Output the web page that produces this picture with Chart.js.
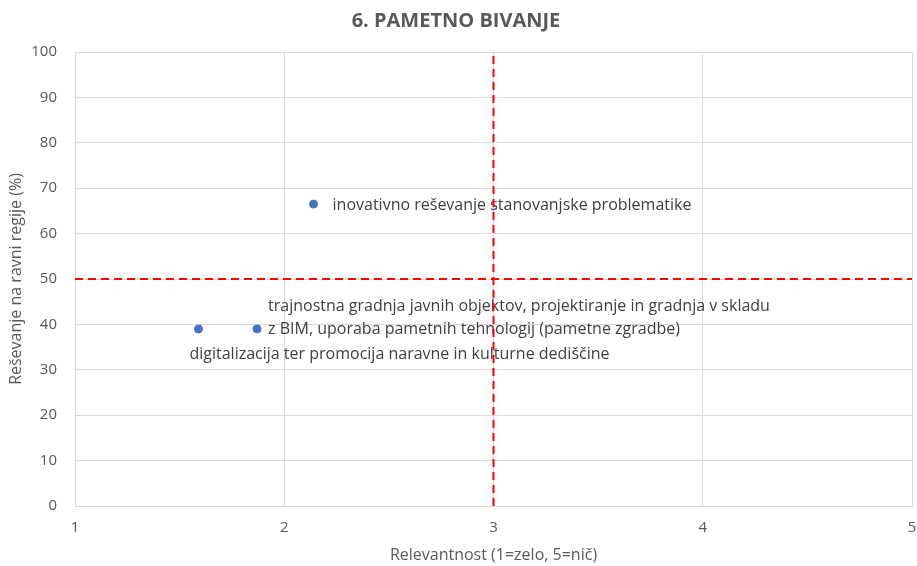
<!DOCTYPE html>
<html>
<head>
<meta charset="utf-8">
<script src="https://cdn.jsdelivr.net/npm/chart.js@4.4.1/dist/chart.umd.min.js"></script>
<style>
    html, body { margin: 0; padding: 0; background: #fff; }
    #wrap { width: 917px; height: 566px; }
</style>
</head>
<body>
<div id="wrap"><canvas id="bivanjeChart"></canvas></div>
<script>
// DATA
const itemLabels = [
    ['inovativno reševanje stanovanjske problematike'],
    ['digitalizacija ter promocija naravne in kulturne dediščine'],
    ['trajnostna gradnja javnih objektov, projektiranje in gradnja v skladu', 'z BIM, uporaba pametnih tehnologij (pametne zgradbe)']
];
const relevance = [2.14, 1.59, 1.87];     // x: 1=zelo, 5=nič
const regionalShare = [66.5, 39, 39];     // y: %
const thresholdX = 3;
const thresholdY = 50;
const xRange = [1, 5];
const yRange = [0, 100];

const FONT = "'Open Sans', 'Noto Sans', sans-serif";

// where each data label sits relative to its point (px)
const labelPlacement = [
    { dx: 19, dy: 1 },
    { dx: -9, dy: 25 },
    { dx: 11, dy: -23 }
];

// Data labels drawn under the dashed lines, like the original
const pointLabels = {
    id: 'pointLabels',
    beforeDatasetsDraw(chart) {
        const meta = chart.getDatasetMeta(0);
        const ctx = chart.ctx;
        ctx.save();
        ctx.font = '16px ' + FONT;
        ctx.fillStyle = '#404040';
        ctx.textAlign = 'left';
        ctx.textBaseline = 'middle';
        meta.data.forEach((pt, i) => {
            const p = labelPlacement[i];
            itemLabels[i].forEach((line, j) => {
                ctx.fillText(line, pt.x + p.dx, pt.y + p.dy + j * 23);
            });
        });
        ctx.restore();
    }
};

const ctx = document.getElementById('bivanjeChart').getContext('2d');
new Chart(ctx, {
    type: 'scatter',
    data: {
        datasets: [
            {
                data: relevance.map((x, i) => ({ x, y: regionalShare[i] })),
                backgroundColor: '#4472C4',
                borderColor: '#4472C4',
                pointRadius: 4,
                pointHoverRadius: 4
            },
            {
                data: [{ x: thresholdX, y: yRange[0] }, { x: thresholdX, y: yRange[1] }],
                showLine: true,
                borderColor: '#ff0000',
                borderWidth: 2,
                borderDash: [8, 5],
                pointRadius: 0
            },
            {
                data: [{ x: xRange[0], y: thresholdY }, { x: xRange[1], y: thresholdY }],
                showLine: true,
                borderColor: '#ff0000',
                borderWidth: 2,
                borderDash: [8, 5],
                pointRadius: 0
            }
        ]
    },
    options: {
        responsive: true,
        maintainAspectRatio: false,
        animation: false,
        layout: { padding: { top: 0, right: 5, bottom: 0, left: 0 } },
        plugins: {
            legend: { display: false },
            tooltip: { enabled: false },
            title: {
                display: true,
                text: '6. PAMETNO BIVANJE',
                color: '#595959',
                font: { family: FONT, size: 20, weight: 'bold' },
                padding: { top: 9, bottom: 19 }
            }
        },
        scales: {
            x: {
                min: xRange[0],
                max: xRange[1],
                ticks: { stepSize: 1, color: '#595959', font: { family: FONT, size: 15 }, padding: 13 },
                grid: { color: '#d9d9d9', drawTicks: false },
                border: { color: '#d9d9d9' },
                title: {
                    display: true,
                    text: 'Relevantnost (1=zelo, 5=nič)',
                    color: '#595959',
                    font: { family: FONT, size: 16 },
                    padding: { top: 0, bottom: 1 }
                },
                afterFit(scale) {
                    scale.height = 60;
                    scale.paddingLeft = 0;
                    scale.paddingRight = 0;
                }
            },
            y: {
                min: yRange[0],
                max: yRange[1],
                ticks: { stepSize: 10, color: '#595959', font: { family: FONT, size: 15 }, padding: 18 },
                grid: { color: '#d9d9d9', drawTicks: false },
                border: { color: '#d9d9d9' },
                title: {
                    display: true,
                    text: 'Reševanje na ravni regije (%)',
                    color: '#595959',
                    font: { family: FONT, size: 16 },
                    padding: { top: 7, bottom: 0 }
                },
                afterFit(scale) {
                    scale.width = 75;
                    scale.paddingTop = 0;
                    scale.paddingBottom = 0;
                }
            }
        }
    },
    plugins: [pointLabels]
});
</script>
</body>
</html>
